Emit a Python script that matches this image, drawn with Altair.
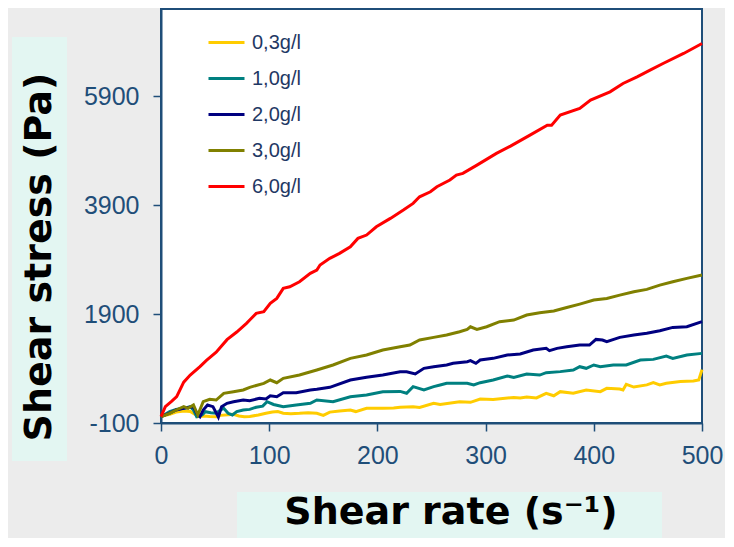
import altair as alt
import pandas as pd

series_names = ["0,3g/l", "1,0g/l", "2,0g/l", "3,0g/l", "6,0g/l"]
series_colors = ["#FFCC00", "#008080", "#000080", "#808000", "#FF0000"]

x_ticks = [0, 100, 200, 300, 400, 500]
y_ticks = [-100, 1900, 3900, 5900]

x_title = "Shear rate (s⁻¹)"
y_title = "Shear stress (Pa)"

x_03 = [0, 4, 8, 14, 21, 27, 33, 36, 40, 45, 51, 55, 62, 67, 72, 77, 82, 90, 97, 103, 108, 113, 120, 128, 136,
        144, 150, 156, 165, 175, 180, 190, 205, 215, 221, 233, 239, 252, 258, 276, 286, 295, 307, 326, 332,
        338, 347, 356, 363, 369, 381, 393, 406, 412, 424, 427, 430, 437, 449, 455, 461, 467, 480, 492, 497, 500]
y_03 = [16, 40, 60, 100, 120, 110, 40, 20, 30, 20, 16, 40, 50, 60, 30, 16, 20, 47, 80, 100, 110, 80, 70, 78, 90,
        78, 40, 100, 120, 139, 110, 170, 170, 175, 190, 200, 185, 261, 240, 290, 280, 340, 330, 370, 360,
        375, 360, 445, 400, 475, 445, 506, 475, 536, 525, 506, 610, 560, 600, 640, 600, 628, 660, 670, 689, 880]

x_10 = [0, 8, 14, 21, 27, 30, 33, 38, 41, 46, 51, 55, 58, 62, 66, 70, 76, 82, 88, 94, 98, 104, 113, 125, 138,
        144, 159, 175, 190, 205, 221, 227, 233, 243, 252, 258, 264, 283, 289, 295, 307, 320, 326, 338, 350,
        356, 369, 381, 387, 393, 400, 406, 418, 430, 443, 455, 467, 473, 486, 500]
y_10 = [16, 108, 150, 169, 200, 139, 16, 47, 108, 90, 78, 139, 169, 78, 47, 108, 139, 150, 190, 210, 291, 240,
        200, 230, 261, 322, 291, 383, 414, 475, 480, 445, 567, 506, 567, 597, 628, 628, 597, 640, 689, 763,
        738, 800, 780, 824, 843, 873, 934, 904, 965, 934, 965, 965, 1056, 1068, 1130, 1087, 1148, 1178]

x_20 = [0, 8, 14, 21, 30, 33, 36, 39, 43, 48, 53, 56, 61, 67, 76, 82, 91, 97, 101, 107, 113, 125, 138, 144,
        156, 175, 190, 205, 221, 227, 235, 243, 252, 264, 270, 283, 286, 291, 295, 307, 320, 332, 344, 356,
        359, 366, 375, 387, 396, 402, 408, 412, 424, 437, 449, 461, 473, 486, 500]
y_20 = [16, 80, 139, 169, 200, 78, 16, 139, 230, 200, 10, 200, 261, 291, 322, 310, 352, 340, 400, 383, 457,
        457, 506, 518, 555, 689, 738, 780, 841, 841, 800, 904, 934, 965, 995, 1026, 1044, 995, 1056, 1087,
        1148, 1166, 1240, 1270, 1227, 1270, 1300, 1331, 1331, 1435, 1423, 1393, 1472, 1515, 1546, 1594,
        1655, 1667, 1760]

x_30 = [0, 8, 14, 21, 25, 30, 34, 39, 45, 51, 58, 67, 76, 82, 95, 101, 107, 113, 128, 144, 159, 175, 190,
        205, 221, 230, 239, 252, 264, 276, 283, 286, 292, 301, 313, 326, 338, 350, 363, 375, 387, 400, 412,
        424, 437, 449, 461, 473, 486, 500]
y_30 = [16, 78, 139, 200, 169, 230, 47, 291, 334, 322, 445, 475, 506, 555, 628, 689, 640, 720, 780, 873, 965,
        1087, 1148, 1240, 1300, 1331, 1423, 1472, 1515, 1576, 1618, 1667, 1618, 1667, 1760, 1790, 1882, 1925,
        1956, 2020, 2083, 2157, 2187, 2248, 2310, 2353, 2432, 2493, 2555, 2616]

x_60 = [0, 4, 10, 14.5, 21, 27, 36, 42, 51, 61, 70, 79, 82, 88, 95, 101, 107, 113, 119, 128, 138, 144, 147,
        156, 165, 175, 182, 190, 199, 212, 224, 233, 239, 249, 255, 267, 273, 279, 292, 310, 323, 341, 357,
        361, 369, 387, 397, 415, 427, 440, 452, 464, 483, 500]
y_60 = [16, 200, 300, 383, 650, 780, 934, 1050, 1200, 1430, 1570, 1730, 1790, 1913, 1943, 2096, 2188, 2372,
        2401, 2493, 2647, 2708, 2800, 2922, 3014, 3135, 3289, 3350, 3502, 3656, 3809, 3932, 4053, 4145, 4237,
        4360, 4451, 4482, 4634, 4849, 4983, 5185, 5368, 5368, 5552, 5675, 5827, 5980, 6133, 6255, 6378, 6500,
        6684, 6867]

all_x = [x_03, x_10, x_20, x_30, x_60]
all_y = [y_03, y_10, y_20, y_30, y_60]

rows = []
for name, xs, ys in zip(series_names, all_x, all_y):
    for xv, yv in zip(xs, ys):
        rows.append({"series": name, "rate": xv, "stress": yv})
df = pd.DataFrame(rows)

one = pd.DataFrame({"k": [0]})
BOX = "#E3F6F2"

box_y = alt.Chart(one).mark_rect(color=BOX).encode(
    x=alt.value(-149), x2=alt.value(-94), y=alt.value(28), y2=alt.value(452)
)
box_x = alt.Chart(one).mark_rect(color=BOX).encode(
    x=alt.value(76), x2=alt.value(501), y=alt.value(483), y2=alt.value(540)
)
title_font = dict(font="DejaVu Sans", fontSize=38, fontWeight="bold", color="black",
                  align="center", baseline="middle")
ttl_y = alt.Chart(one).mark_text(angle=270, **title_font).encode(
    x=alt.value(-121), y=alt.value(248), text=alt.value(y_title)
)
ttl_x = alt.Chart(one).mark_text(**title_font).encode(
    x=alt.value(290), y=alt.value(504), text=alt.value(x_title)
)

lines = alt.Chart(df).mark_line(strokeWidth=3).encode(
    x=alt.X("rate:Q", scale=alt.Scale(domain=[0, 500], nice=False),
            axis=alt.Axis(values=x_ticks, title=None, labelPadding=12, labelFlush=False,
                          labelExpr="datum.value + ''")),
    y=alt.Y("stress:Q", scale=alt.Scale(domain=[-100, 7500], nice=False, zero=False),
            axis=alt.Axis(values=y_ticks, title=None, labelPadding=14, labelFlush=False,
                          labelExpr="datum.value + ''")),
    color=alt.Color("series:N", scale=alt.Scale(domain=series_names, range=series_colors),
                    legend=alt.Legend(title=None, orient="none", legendX=46, legendY=14,
                                      symbolType="stroke", symbolSize=1296, symbolStrokeWidth=3,
                                      labelFontSize=20, labelFont="Liberation Sans", labelColor="#1F3864",
                                      rowPadding=6, labelOffset=6, padding=0)),
    detail="series:N",
)

chart = alt.layer(box_y, box_x, ttl_y, ttl_x, lines).properties(
    width=541, height=414,
    autosize=alt.AutoSizeParams(type="none"),
    padding={"left": 153, "top": 1, "right": 23, "bottom": 115},
    background="#ECECEC",
).configure_view(
    fill="white", stroke="#1F4E79", strokeWidth=2
).configure_axis(
    grid=False,
    domainColor="#1F4E79", domainWidth=2,
    tickColor="#1F4E79", tickSize=8, tickWidth=1.5,
    labelColor="#1F4E79", labelFont="Liberation Sans", labelFontSize=25,
)

chart.save("out.html", embed_options={"renderer": "svg", "actions": False})
